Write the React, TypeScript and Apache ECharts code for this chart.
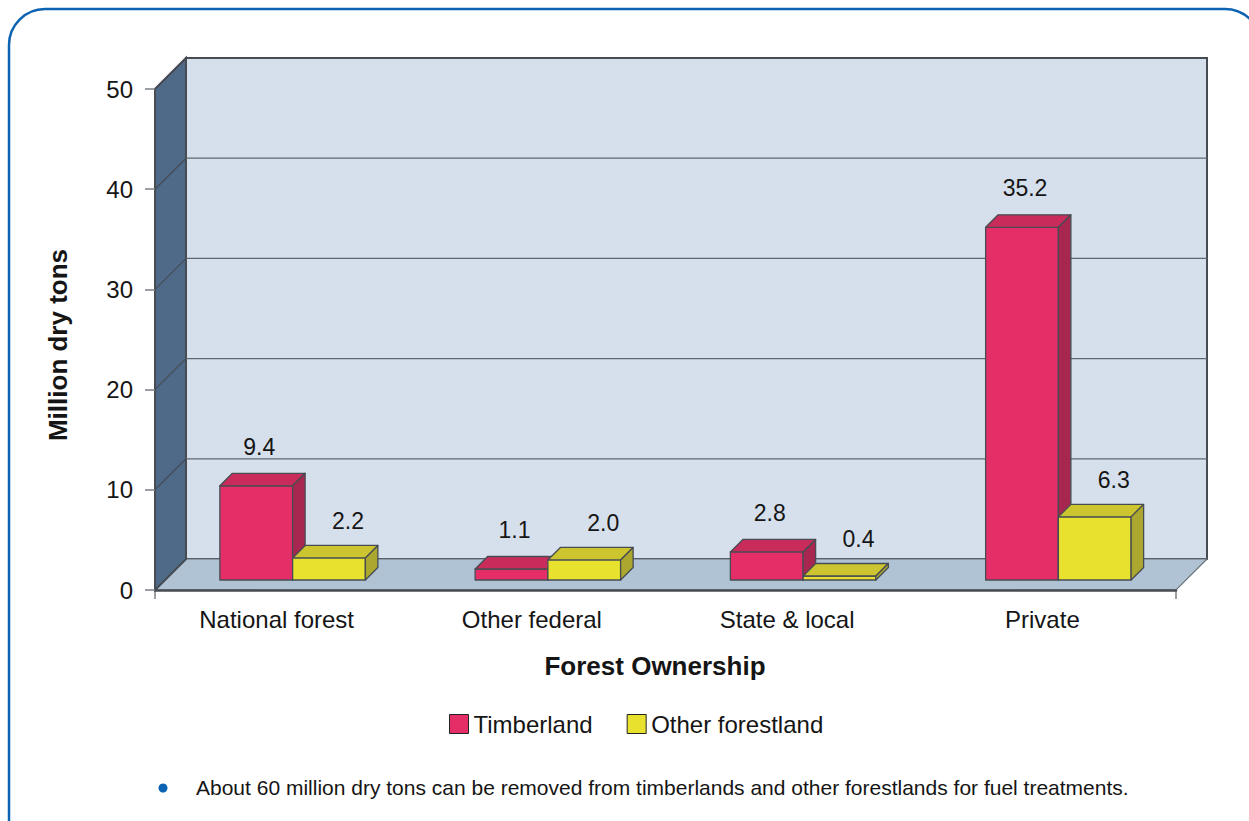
import React, { useEffect, useRef } from "react";
import * as echarts from "echarts";

const categories = ["National forest", "Other federal", "State & local", "Private"];
const timberland = [9.4, 1.1, 2.8, 35.2];
const otherForestland = [2.2, 2.0, 0.4, 6.3];
const yTicks = [0, 10, 20, 30, 40, 50];
const seriesNames = ["Timberland", "Other forestland"];
const footnote =
  "About 60 million dry tons can be removed from timberlands and other forestlands for fuel treatments.";

const FONT = "'Liberation Sans', Arial, Helvetica, sans-serif";
const EDGE = "#474c53";
const DEPTH = 31;
const BAR_D0 = 10;
const BAR_DD = 12.5;
const BAR_FRAC = 0.285;

const faces = [
  { front: "#e52e68", top: "#c92b5a", side: "#a82750", ldx: 3, ldy: -39 },
  { front: "#e8e22e", top: "#cdc52f", side: "#aca72e", ldx: 19, ldy: -37 },
];

function makeBarRenderer(si: number) {
  return (params: any, api: any) => {
    const ci = api.value(0);
    const v = api.value(1);
    const band = api.size([1, 0])[0];
    const base = api.coord([ci, 0]);
    const top = api.coord([ci, v]);
    const w = band * BAR_FRAC;
    const x0 = base[0] + (si === 0 ? -w : 0) + BAR_D0;
    const x1 = x0 + w;
    const yb = base[1] - BAR_D0;
    const yt = top[1] - BAR_D0;
    const f = faces[si];
    const d = BAR_DD;
    const stroke = { stroke: EDGE, lineWidth: 1.3, lineJoin: "round" };
    return {
      type: "group",
      children: [
        {
          type: "rect",
          shape: { x: x0, y: yt, width: w, height: yb - yt },
          style: { fill: f.front, ...stroke },
        },
        {
          type: "polygon",
          shape: { points: [[x0, yt], [x0 + d, yt - d], [x1 + d, yt - d], [x1, yt]] },
          style: { fill: f.top, ...stroke },
        },
        {
          type: "polygon",
          shape: { points: [[x1, yt], [x1 + d, yt - d], [x1 + d, yb - d], [x1, yb]] },
          style: { fill: f.side, ...stroke },
        },
        {
          type: "text",
          x: x0 + w / 2 + f.ldx,
          y: yt + f.ldy,
          style: {
            text: Number(v).toFixed(1),
            font: `23px ${FONT}`,
            fill: "#151515",
            textAlign: "center",
            textVerticalAlign: "middle",
          },
        },
      ],
    };
  };
}

function renderWalls(params: any, api: any) {
  const cs = params.coordSys;
  const L = cs.x;
  const R = cs.x + cs.width;
  const yTop = api.coord([0, yTicks[yTicks.length - 1]])[1];
  const y0 = api.coord([0, 0])[1];
  const D = DEPTH;
  const children: any[] = [];
  children.push({
    type: "rect",
    shape: { x: L + D, y: yTop - D, width: R - L, height: y0 - yTop },
    style: { fill: "#d6e0ec", stroke: EDGE, lineWidth: 2 },
  });
  children.push({
    type: "polygon",
    shape: { points: [[L, y0], [L + D, y0 - D], [R + D, y0 - D], [R, y0]] },
    style: { fill: "#b0c3d5", stroke: "#6b747d", lineWidth: 1.2 },
  });
  children.push({
    type: "polygon",
    shape: { points: [[L, yTop], [L + D, yTop - D], [L + D, y0 - D], [L, y0]] },
    style: { fill: "#4f6a89", stroke: EDGE, lineWidth: 2 },
  });
  yTicks.forEach((t) => {
    const y = api.coord([0, t])[1];
    if (t > 0 && t < yTicks[yTicks.length - 1]) {
      children.push({
        type: "line",
        shape: { x1: L + D, y1: y - D, x2: R + D, y2: y - D },
        style: { stroke: "#5f6870", lineWidth: 1.3 },
      });
    }
    if (t > 0) {
      children.push({
        type: "line",
        shape: { x1: L, y1: y, x2: L + D, y2: y - D },
        style: { stroke: EDGE, lineWidth: 1.3 },
      });
    }
  });
  children.push({
    type: "line",
    shape: { x1: L, y1: y0, x2: L, y2: y0 + 9 },
    style: { stroke: "#7a7f85", lineWidth: 1.5 },
  });
  children.push({
    type: "line",
    shape: { x1: R, y1: y0, x2: R, y2: y0 + 9 },
    style: { stroke: "#7a7f85", lineWidth: 1.5 },
  });
  return { type: "group", children };
}

export default function App() {
  const ref = useRef<HTMLDivElement>(null);
  useEffect(() => {
    document.body.style.margin = "0";
    if (!ref.current) return;
    const chart = echarts.init(ref.current, undefined, { renderer: "svg" });
    const option: any = {
      animation: false,
      backgroundColor: "#ffffff",
      grid: { left: 155, right: 73, top: 89, bottom: 231, containLabel: false },
      xAxis: {
        type: "category",
        data: categories,
        axisLine: { show: true, lineStyle: { color: EDGE, width: 2.5 } },
        axisTick: { show: false },
        axisLabel: {
          margin: 17,
          fontSize: 24,
          fontFamily: FONT,
          color: "#151515",
          padding: [0, 12, 0, 0],
        },
        splitLine: { show: false },
        z: 5,
      },
      yAxis: {
        type: "value",
        min: 0,
        max: 50,
        interval: 10,
        axisLine: { show: true, lineStyle: { color: EDGE, width: 2 } },
        axisTick: { show: true, length: 10, lineStyle: { color: "#7a7f85", width: 1.5 } },
        axisLabel: { margin: 22, fontSize: 24, fontFamily: FONT, color: "#151515" },
        splitLine: { show: false },
        z: 5,
      },
      legend: {
        data: seriesNames,
        left: 444,
        top: 707,
        icon: "rect",
        itemWidth: 19,
        itemHeight: 19,
        itemGap: 34,
        selectedMode: false,
        itemStyle: { borderColor: "#222", borderWidth: 1 },
        textStyle: { fontSize: 24, fontFamily: FONT, color: "#151515" },
      },
      graphic: [
        {
          type: "rect",
          shape: { x: 9, y: 9, width: 1252, height: 860, r: 36 },
          style: { fill: "none", stroke: "#0c63b2", lineWidth: 2.5 },
          silent: true,
        },
        {
          type: "text",
          x: 58,
          y: 345,
          rotation: Math.PI / 2,
          style: {
            text: "Million dry tons",
            font: `bold 26px ${FONT}`,
            fill: "#151515",
            textAlign: "center",
            textVerticalAlign: "middle",
          },
        },
        {
          type: "text",
          x: 655,
          y: 666,
          style: {
            text: "Forest Ownership",
            font: `bold 26px ${FONT}`,
            fill: "#151515",
            textAlign: "center",
            textVerticalAlign: "middle",
          },
        },
        {
          type: "circle",
          shape: { cx: 163, cy: 788, r: 4.5 },
          style: { fill: "#0c63b2" },
        },
        {
          type: "text",
          x: 196,
          y: 787,
          style: {
            text: footnote,
            font: `21px ${FONT}`,
            fill: "#151515",
            textAlign: "left",
            textVerticalAlign: "middle",
          },
        },
      ],
      series: [
        {
          type: "custom",
          name: "walls",
          renderItem: renderWalls,
          data: [[0, 0]],
          encode: { x: 0, y: 1 },
          silent: true,
          z: 1,
        },
        {
          type: "custom",
          name: seriesNames[0],
          renderItem: makeBarRenderer(0),
          data: categories.map((_, i) => [i, timberland[i]]),
          encode: { x: 0, y: 1 },
          itemStyle: { color: faces[0].front },
          z: 2,
        },
        {
          type: "custom",
          name: seriesNames[1],
          renderItem: makeBarRenderer(1),
          data: categories.map((_, i) => [i, otherForestland[i]]),
          encode: { x: 0, y: 1 },
          itemStyle: { color: faces[1].front },
          z: 3,
        },
      ],
    };
    chart.setOption(option);
    return () => chart.dispose();
  }, []);
  return <div ref={ref} style={{ width: 1249, height: 821 }} />;
}
